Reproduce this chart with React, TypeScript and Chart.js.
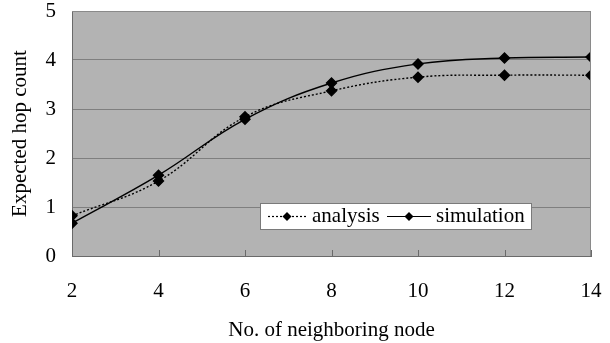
import React, { useEffect, useRef } from "react";
import { Chart, registerables } from "chart.js";

Chart.register(...registerables);

const categories = [2, 4, 6, 8, 10, 12, 14];
const analysis = [0.82, 1.53, 2.84, 3.37, 3.65, 3.69, 3.69];
const simulation = [0.67, 1.65, 2.79, 3.53, 3.92, 4.04, 4.06];
const yTicks = [0, 1, 2, 3, 4, 5];
const seriesNames = ["analysis", "simulation"];

const FONT = "'Liberation Serif', 'Times New Roman', serif";
const FS = 21;

const bgPlugin = {
  id: "plotBg",
  beforeDraw(chart: any) {
    const { ctx, chartArea: a } = chart;
    ctx.save();
    ctx.fillStyle = "#b3b3b3";
    ctx.fillRect(a.left, a.top, a.right - a.left, a.bottom - a.top);
    ctx.restore();
  },
  afterDatasetsDraw(chart: any) {
    const { ctx, chartArea: a } = chart;
    ctx.save();
    ctx.strokeStyle = "#8a8a8a";
    ctx.lineWidth = 1;
    ctx.beginPath();
    ctx.moveTo(a.left, a.top + 0.5);
    ctx.lineTo(a.right - 0.5, a.top + 0.5);
    ctx.lineTo(a.right - 0.5, a.bottom);
    ctx.stroke();
    const xs = chart.scales.x;
    ctx.strokeStyle = "#6a6a6a";
    categories.forEach((c) => {
      const px = Math.round(xs.getPixelForValue(c)) + 0.5;
      ctx.beginPath();
      ctx.moveTo(px, a.bottom);
      ctx.lineTo(px, a.bottom - 6);
      ctx.stroke();
    });
    const lx = 260, ly = 203, lw = 271, lh = 26;
    ctx.fillStyle = "#ffffff";
    ctx.fillRect(lx, ly, lw, lh);
    ctx.strokeStyle = "#7a7a7a";
    ctx.strokeRect(lx + 0.5, ly + 0.5, lw, lh);
    const cy = ly + lh / 2 + 0.5;
    const diamond = (x: number, y: number, r: number) => {
      ctx.beginPath();
      ctx.moveTo(x, y - r);
      ctx.lineTo(x + r, y);
      ctx.lineTo(x, y + r);
      ctx.lineTo(x - r, y);
      ctx.closePath();
      ctx.fillStyle = "#000";
      ctx.fill();
    };
    ctx.strokeStyle = "#000";
    ctx.lineWidth = 1.2;
    ctx.setLineDash([2, 2]);
    ctx.beginPath();
    ctx.moveTo(268, cy);
    ctx.lineTo(307, cy);
    ctx.stroke();
    ctx.setLineDash([]);
    diamond(287, cy, 4.5);
    ctx.fillStyle = "#000";
    ctx.font = FS + "px " + FONT;
    ctx.textBaseline = "middle";
    ctx.textAlign = "left";
    ctx.fillText(seriesNames[0], 312, cy);
    ctx.beginPath();
    ctx.moveTo(387, cy);
    ctx.lineTo(431, cy);
    ctx.stroke();
    diamond(409, cy, 4.5);
    ctx.fillText(seriesNames[1], 436, cy);
    ctx.restore();
  },
};

export default function App() {
  const ref = useRef<HTMLCanvasElement>(null);
  useEffect(() => {
    document.body.style.margin = "0";
    const chart = new Chart(ref.current!, {
      type: "line",
      data: {
        datasets: [
          {
            label: seriesNames[0],
            data: categories.map((c, i) => ({ x: c, y: analysis[i] })),
            borderColor: "#000",
            backgroundColor: "#000",
            borderWidth: 1.4,
            borderDash: [2, 2],
            pointStyle: "rectRot",
            pointRadius: 5,
            tension: 0.4,
          },
          {
            label: seriesNames[1],
            data: categories.map((c, i) => ({ x: c, y: simulation[i] })),
            borderColor: "#000",
            backgroundColor: "#000",
            borderWidth: 1.4,
            pointStyle: "rectRot",
            pointRadius: 5,
            tension: 0.4,
          },
        ],
      },
      options: {
        animation: false,
        responsive: false,
        layout: { padding: { left: 0, right: 19, top: 11, bottom: 0 } },
        plugins: { legend: { display: false }, tooltip: { enabled: false } },
        scales: {
          x: {
            type: "linear",
            min: 2,
            max: 14,
            afterBuildTicks: (s: any) => {
              s.ticks = categories.map((v) => ({ value: v }));
            },
            afterFit: (s: any) => {
              s.height = 87;
              s.paddingLeft = 0;
              s.paddingRight = 0;
            },
            grid: { display: false, drawTicks: false },
            border: { display: true, color: "#6a6a6a", width: 1 },
            ticks: {
              padding: 23,
              color: "#000",
              font: { family: FONT, size: FS },
              maxRotation: 0,
            },
            title: {
              display: true,
              text: "No. of neighboring node",
              color: "#000",
              font: { family: FONT, size: FS },
              padding: { top: 12, bottom: 0 },
            },
          },
          y: {
            min: 0,
            max: 5,
            afterBuildTicks: (s: any) => {
              s.ticks = yTicks.map((v) => ({ value: v }));
            },
            afterFit: (s: any) => {
              s.width = 72;
              s.paddingTop = 0;
              s.paddingBottom = 0;
            },
            grid: { color: "#7f7f7f", drawTicks: false, lineWidth: 1 },
            border: { display: true, color: "#6a6a6a", width: 1 },
            ticks: {
              padding: 16,
              color: "#000",
              font: { family: FONT, size: FS },
            },
            title: {
              display: true,
              text: "Expected hop count",
              color: "#000",
              font: { family: FONT, size: FS },
              padding: { top: 8, bottom: 0 },
            },
          },
        },
      },
      plugins: [bgPlugin],
    });
    return () => chart.destroy();
  }, []);
  return <canvas ref={ref} width={610} height={343} />;
}
